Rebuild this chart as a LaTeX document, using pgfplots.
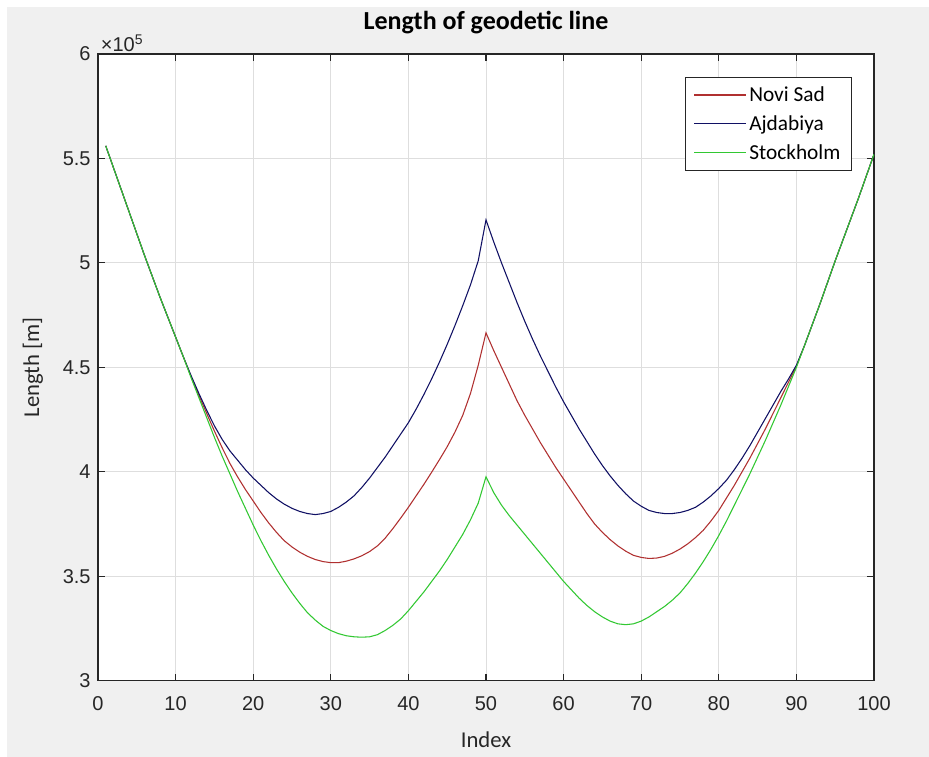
\documentclass[border=0pt]{standalone}
\usepackage{fontspec}
\setmainfont{Carlito}
\newfontfamily\tickfont{Liberation Sans}
\usepackage{pgfplots}
\pgfplotsset{compat=1.18}
\usepackage{pgfplotstable}
\definecolor{figbg}{RGB}{240,240,240}
\definecolor{axcol}{RGB}{38,38,38}
\definecolor{nscol}{RGB}{176,48,48}
\definecolor{ajcol}{RGB}{16,16,100}
\definecolor{stcol}{RGB}{50,200,50}
\definecolor{gridcol}{RGB}{222,222,222}

% Length of geodetic line, in units of 10^5 m
\pgfplotstableread{
x   ns     aj     st
1   5.56   5.56   5.56
2   5.455  5.455  5.455
3   5.35   5.35   5.35
4   5.245  5.245  5.245
5   5.14   5.14   5.14
6   5.035  5.035  5.035
7   4.935  4.935  4.935
8   4.835  4.835  4.835
9   4.74   4.74   4.74
10  4.645  4.645  4.645
11  4.55   4.55   4.55
12  4.455  4.46   4.45
13  4.365  4.375  4.355
14  4.28   4.295  4.26
15  4.195  4.22   4.165
16  4.115  4.155  4.075
17  4.04   4.10   3.99
18  3.975  4.055  3.905
19  3.915  4.01   3.825
20  3.86   3.97   3.745
21  3.805  3.935  3.67
22  3.755  3.90   3.60
23  3.71   3.87   3.535
24  3.67   3.845  3.475
25  3.64   3.825  3.42
26  3.615  3.81   3.37
27  3.595  3.80   3.325
28  3.58   3.795  3.29
29  3.57   3.80   3.26
30  3.565  3.81   3.24
31  3.565  3.83   3.225
32  3.572  3.855  3.215
33  3.583  3.885  3.21
34  3.598  3.925  3.208
35  3.618  3.97   3.21
36  3.645  4.02   3.22
37  3.682  4.07   3.24
38  3.728  4.125  3.265
39  3.778  4.18   3.295
40  3.83   4.235  3.335
41  3.885  4.30   3.38
42  3.94   4.37   3.425
43  3.998  4.445  3.475
44  4.058  4.525  3.525
45  4.12   4.61   3.58
46  4.19   4.70   3.64
47  4.27   4.795  3.70
48  4.375  4.895  3.77
49  4.51   5.01   3.85
50  4.665  5.206  3.976
51  4.58   5.10   3.90
52  4.50   5.00   3.84
53  4.42   4.905  3.79
54  4.34   4.81   3.745
55  4.27   4.72   3.70
56  4.205  4.635  3.655
57  4.14   4.555  3.61
58  4.08   4.48   3.565
59  4.02   4.405  3.52
60  3.965  4.335  3.475
61  3.91   4.27   3.435
62  3.855  4.205  3.395
63  3.80   4.145  3.36
64  3.75   4.085  3.33
65  3.71   4.03   3.305
66  3.675  3.98   3.285
67  3.645  3.935  3.272
68  3.62   3.895  3.268
69  3.60   3.86   3.272
70  3.59   3.835  3.285
71  3.585  3.815  3.305
72  3.587  3.805  3.33
73  3.595  3.80   3.355
74  3.61   3.80   3.385
75  3.63   3.805  3.42
76  3.655  3.815  3.465
77  3.685  3.83   3.515
78  3.72   3.855  3.57
79  3.765  3.885  3.63
80  3.815  3.92   3.695
81  3.875  3.96   3.765
82  3.935  4.01   3.84
83  4.00   4.065  3.915
84  4.065  4.125  3.99
85  4.135  4.19   4.07
86  4.205  4.255  4.15
87  4.28   4.32   4.235
88  4.355  4.385  4.32
89  4.43   4.445  4.41
90  4.505  4.51   4.50
91  4.60   4.60   4.60
92  4.70   4.70   4.70
93  4.80   4.80   4.80
94  4.905  4.905  4.905
95  5.01   5.01   5.01
96  5.11   5.11   5.11
97  5.21   5.21   5.21
98  5.31   5.31   5.31
99  5.415  5.415  5.415
100 5.52   5.52   5.52
}\geodata

\begin{document}
\begin{tikzpicture}
\useasboundingbox (-73.5pt,-57pt) rectangle (623.25pt,510.5pt);
\fill[white] (-73.5pt,-57pt) rectangle (623.25pt,510.5pt);
\fill[figbg] (-68pt,-57pt) rectangle (623.25pt,505pt);
\begin{axis}[
  at={(0,0)}, anchor=south west,
  scale only axis, width=582pt, height=470pt,
  xmin=0, xmax=100, ymin=3, ymax=6,
  xtick={0,10,...,100}, ytick={3,3.5,...,6},
  xtick pos=both, ytick pos=both,
  xticklabel pos=lower, yticklabel pos=left,
  tick align=inside, major tick length=5pt,
  grid=major, major grid style={gridcol, line width=0.6pt},
  axis line style={axcol, line width=0.8pt},
  tick style={axcol, line width=0.8pt},
  axis background/.style={fill=white},
  clip mode=individual,
  scaled ticks=false,
  /pgf/number format/assume math mode=true,
  /pgf/number format/fixed,
  ticklabel style={font=\tickfont\fontsize{15}{17}\selectfont, text=axcol},
  xticklabel style={yshift=-8pt},
  yticklabel style={xshift=-2pt},
  title={Length of geodetic line},
  title style={font=\bfseries\fontsize{19.5}{22}\selectfont, at={(axis description cs:0.5,1.038)}, anchor=center},
  xlabel={Index},
  xlabel style={font=\fontsize{17}{20}\selectfont, text=axcol, at={(axis description cs:0.5,-0.094)}, anchor=center},
  ylabel={Length [m]},
  ylabel style={font=\fontsize{17}{20}\selectfont, text=axcol, at={(axis description cs:-0.0838,0.5)}, anchor=center},
  legend style={at={(rel axis cs:1,1)}, anchor=north east, xshift=-16.5pt, yshift=-17.25pt,
    draw=axcol, fill=white, font=\fontsize{16}{18}\selectfont,
    cells={anchor=west}, row sep=5pt, inner xsep=6.5pt, inner ysep=5pt},
  legend image code/.code={\draw[#1, line width=0.8pt] (0pt,0pt) -- (39pt,0pt);},
]
\addplot[nscol, line width=0.8pt] table[x=x, y=ns] {\geodata};
\addlegendentry{Novi Sad}
\addplot[ajcol, line width=0.8pt] table[x=x, y=aj] {\geodata};
\addlegendentry{Ajdabiya}
\addplot[stcol, line width=0.8pt] table[x=x, y=st] {\geodata};
\addlegendentry{Stockholm}
\node[anchor=south west, inner sep=0pt, font=\tickfont\fontsize{15}{17}\selectfont, text=axcol] at ([xshift=2pt, yshift=1.5pt]rel axis cs:0,1) {×10\textsuperscript{5}};
\end{axis}
\end{tikzpicture}
\end{document}
